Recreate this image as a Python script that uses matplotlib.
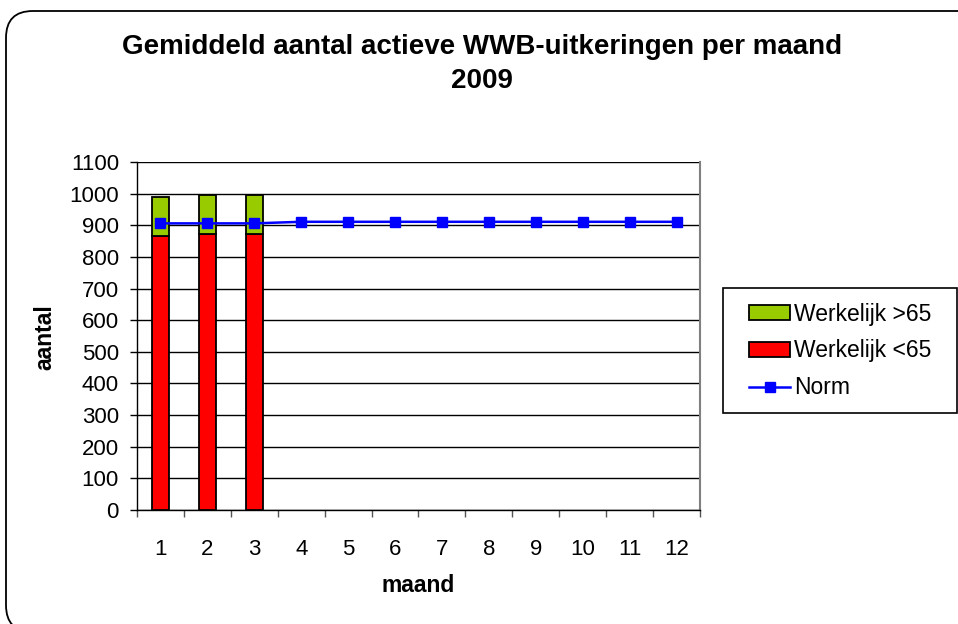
#!/usr/bin/env python3

import numpy as np
import matplotlib.pyplot as plt
from matplotlib.patches import FancyBboxPatch, Rectangle

plt.rcParams['font.family'] = ['Liberation Sans', 'DejaVu Sans']

months = list(range(1, 13))
under65 = [866, 871, 871]
over65 = [124, 124, 124]
norm = [906, 906, 906, 911, 911, 911, 911, 911, 911, 911, 911, 911]

W, H = 958, 624
fig = plt.figure(figsize=(W / 100, H / 100), dpi=100)

# rounded outer frame
frame = FancyBboxPatch((6 / W, -8 / H), 990 / W, 621 / H,
                       boxstyle='round,pad=0,rounding_size=0.028',
                       transform=fig.transFigure, fill=False,
                       edgecolor='black', linewidth=1.3, clip_on=False,
                       mutation_aspect=W / H)
fig.patches.append(frame)

ax = fig.add_axes([137 / W, 1 - 510 / H, (700 - 137) / W, (510 - 162) / H])

x_bar = np.arange(1, len(under65) + 1)
ax.bar(x_bar, under65, width=0.37, color='#FF0000', edgecolor='black',
       linewidth=1.3, label='Werkelijk <65', zorder=3)
ax.bar(x_bar, over65, width=0.37, bottom=under65, color='#99CC00',
       edgecolor='black', linewidth=1.3, label='Werkelijk >65', zorder=3)
ax.plot(months, norm, color='#0000FF', linewidth=1.8, marker='s',
        markersize=6.5, label='Norm', zorder=4)

ax.set_xlim(0.5, 12.5)
ax.set_ylim(0, 1100)
ax.set_yticks(range(0, 1101, 100))
ax.yaxis.grid(True, color='black', linewidth=1)
ax.set_axisbelow(True)

ax.set_xticks(np.arange(0.5, 12.6, 1))
ax.set_xticklabels([])
ax.set_xticks(months, minor=True)
ax.set_xticklabels([str(m) for m in months], minor=True)
ax.tick_params(axis='x', which='minor', length=0, pad=21, labelsize=16)
ax.tick_params(axis='x', which='major', length=5, width=1, color='#555555')
ax.tick_params(axis='y', length=5, width=1, pad=8, labelsize=16)

ax.spines['top'].set_visible(False)
ax.spines['right'].set_color('#808080')
ax.spines['right'].set_linewidth(1.5)
ax.spines['left'].set_linewidth(1)
ax.spines['bottom'].set_linewidth(1)

fig.text(482 / W, 1 - 47 / H, 'Gemiddeld aantal actieve WWB-uitkeringen per maand',
         ha='center', va='center', fontsize=20, fontweight='bold')
fig.text(482 / W, 1 - 81 / H, '2009', ha='center', va='center',
         fontsize=20, fontweight='bold')
fig.text(45 / W, 1 - 337 / H, 'aantal', ha='center', va='center',
         rotation=90, fontsize=16.5, fontweight='bold')
fig.text(418 / W, 1 - 586 / H, 'maand', ha='center', va='center',
         fontsize=16.5, fontweight='bold')

# legend box
fig.patches.append(Rectangle((723 / W, 1 - 413 / H), 234 / W, 125 / H,
                             transform=fig.transFigure, fill=False,
                             edgecolor='black', linewidth=1.2))
hd = {l: h for h, l in zip(*ax.get_legend_handles_labels())}
labels = ['Werkelijk >65', 'Werkelijk <65', 'Norm']
leg = fig.legend([hd[l] for l in labels], labels,
                 loc='center left', bbox_to_anchor=(749 / W, 1 - 351 / H),
                 fontsize=16.5, frameon=False, handlelength=1.8,
                 handleheight=0.6, handletextpad=0.15, borderpad=0,
                 labelspacing=0.6, borderaxespad=0)

plt.savefig('out.png', dpi=100)
